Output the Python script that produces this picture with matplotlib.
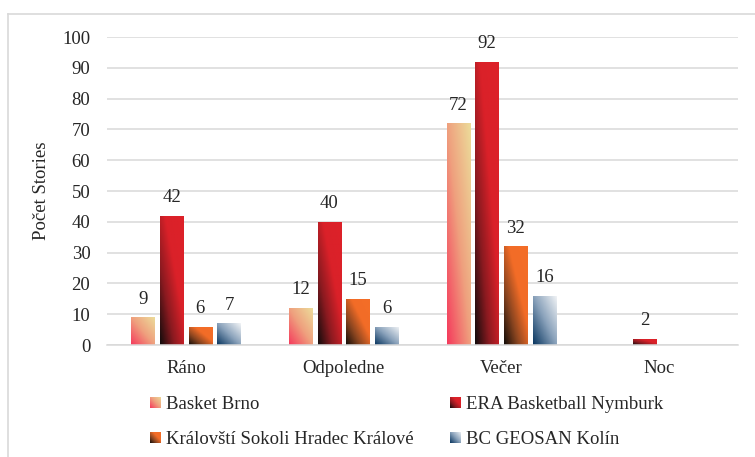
import matplotlib
matplotlib.use("Agg")
import matplotlib.pyplot as plt
from matplotlib.colors import LinearSegmentedColormap
from matplotlib.patches import Rectangle
from matplotlib.lines import Line2D
import numpy as np

plt.rcParams['font.family'] = ['Liberation Serif', 'DejaVu Serif']

categories = ['Ráno', 'Odpoledne', 'Večer', 'Noc']
teams = ['Basket Brno', 'ERA Basketball Nymburk',
         'Královští Sokoli Hradec Králové', 'BC GEOSAN Kolín']
values = {
    'Basket Brno': [9, 12, 72, 0],
    'ERA Basketball Nymburk': [42, 40, 92, 2],
    'Královští Sokoli Hradec Králové': [6, 15, 32, 0],
    'BC GEOSAN Kolín': [7, 6, 16, 0],
}

# gradient stops, bottom-left -> top-right
cmaps = {
    'Basket Brno': LinearSegmentedColormap.from_list(
        'brno', [(0, '#f53a5c'), (0.5, '#efa07e'), (1, '#ecdc9a')]),
    'ERA Basketball Nymburk': LinearSegmentedColormap.from_list(
        'era', [(0, '#120c0c'), (0.3, '#8a1a20'), (0.6, '#da2129'), (1, '#dd2129')]),
    'Královští Sokoli Hradec Králové': LinearSegmentedColormap.from_list(
        'sok', [(0, '#140e0a'), (0.3, '#8a4520'), (0.6, '#f26c27'), (1, '#f46e28')]),
    'BC GEOSAN Kolín': LinearSegmentedColormap.from_list(
        'kol', [(0, '#08355f'), (0.5, '#8aa2bb'), (1, '#f2f4f6')]),
}

fs = 13.5
slot = 0.182
width = 0.147

fig = plt.figure(figsize=(7.55, 4.57), dpi=100)
ax = fig.add_axes([107 / 755, 112 / 457, 631 / 755, 308 / 457])

u, v = np.meshgrid(np.linspace(0, 1, 40), np.linspace(0, 1, 200))
grad = (u + v) / 2

x = np.arange(len(categories))
for i, team in enumerate(teams):
    offs = (i - 1.5) * slot
    for j, val in enumerate(values[team]):
        if val == 0:
            continue
        x0 = x[j] + offs - width / 2
        bar = ax.bar(x[j] + offs, val, width, color='none', edgecolor='none')[0]
        im = ax.imshow(grad, cmap=cmaps[team], origin='lower', aspect='auto',
                       extent=(x0, x0 + width, 0, val), interpolation='bilinear',
                       zorder=2)
        im.set_clip_path(bar)
        ax.annotate(str(val), (x[j] + offs, val), xytext=(0, 7),
                    textcoords='offset points', ha='center', va='bottom',
                    fontsize=fs, color='#262626')

ax.set_xlim(-0.5, 3.5)
ax.set_ylim(0, 100)
ax.set_yticks(range(0, 101, 10))
ax.set_xticks(x)
ax.set_xticklabels(categories)
ax.tick_params(axis='both', length=0, labelsize=fs, colors='#262626')
ax.tick_params(axis='x', pad=11)
ax.tick_params(axis='y', pad=12)
ax.grid(axis='y', color='#d9d9d9', linewidth=1.1)
ax.set_axisbelow(True)
for s in ['top', 'right', 'left']:
    ax.spines[s].set_visible(False)
ax.spines['bottom'].set_color('#d9d9d9')
ax.spines['bottom'].set_linewidth(1.1)
ax.set_ylabel('Počet Stories', fontsize=fs, color='#262626', labelpad=9)

# legend (row-wise order)
order = [0, 2, 1, 3]
handles = [Rectangle((0, 0), 1, 1, facecolor=cmaps[teams[k]](0.5)) for k in order]
labels = [teams[k] for k in order]
leg = ax.legend(handles, labels, ncol=2, loc='upper left',
                bbox_to_anchor=(141 / 755, 1 - 387 / 457), bbox_transform=fig.transFigure,
                frameon=False, fontsize=fs, handlelength=0.55, handleheight=0.55,
                handletextpad=0.3, columnspacing=1.9, labelspacing=0.95,
                borderpad=0, labelcolor='#262626')

fig.canvas.draw()
W, H = fig.bbox.width, fig.bbox.height
for k, h in zip(order, leg.legend_handles):
    bb = h.get_window_extent()
    sq = fig.add_axes([bb.x0 / W, bb.y0 / H, bb.width / W, bb.height / H], zorder=5)
    sq.imshow(grad[::5, :], cmap=cmaps[teams[k]], origin='lower', aspect='auto',
              extent=(0, 1, 0, 1), interpolation='bilinear')
    sq.axis('off')

# chart border
fig.add_artist(Line2D([8 / 755, 1], [1 - 14 / 457, 1 - 14 / 457],
                      transform=fig.transFigure, color='#d9d9d9', lw=1.2))
fig.add_artist(Line2D([8 / 755, 8 / 755], [0, 1 - 14 / 457],
                      transform=fig.transFigure, color='#d9d9d9', lw=1.2))

fig.savefig('out.png', dpi=100)
